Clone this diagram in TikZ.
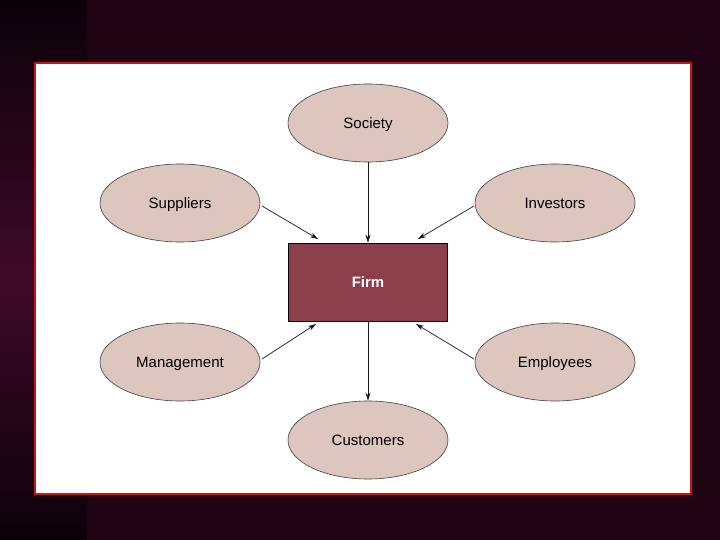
\documentclass[tikz,border=0pt]{standalone}
\usepackage{fontspec}
\setmainfont{Liberation Sans}
\usetikzlibrary{shapes.geometric,arrows.meta}
\definecolor{bgmain}{HTML}{1F0413}
\definecolor{bgdark}{HTML}{0B0208}
\definecolor{bgglow}{HTML}{3E0A28}
\definecolor{panelred}{HTML}{C8141E}
\definecolor{ellfill}{HTML}{DCC6BD}
\definecolor{firmfill}{HTML}{8B3F4B}
\tikzset{
  x=1pt, y=-1pt,
  party/.style={ellipse, draw=black!75, line width=0.6pt, fill=ellfill,
    minimum width=160pt, minimum height=78pt, inner sep=0pt, text depth=0pt,
    font=\fontsize{15}{17}\selectfont},
  firmbox/.style={rectangle, draw=black, line width=0.6pt, fill=firmfill,
    minimum width=159pt, minimum height=78pt, inner sep=0pt, text=white, text depth=0pt,
    font=\fontsize{15}{17}\selectfont\bfseries},
  link/.style={draw=black!90, line width=0.7pt, -{Stealth[length=8pt,width=5pt]}}
}
\begin{document}
\begin{tikzpicture}
\useasboundingbox (0,0) rectangle (720,540);
\fill[bgmain] (0,0) rectangle (720,540);
\shade[top color=bgdark, bottom color=bgglow] (0,0) rectangle (87,280);
\shade[top color=bgglow, bottom color=bgdark] (0,280) rectangle (87,540);
\fill[white, draw=panelred, line width=2pt] (35,63) rectangle (691,494);

\node[party] (soc) at (368,123) {Society};
\node[party] (sup) at (180,203) {Suppliers};
\node[party] (inv) at (555,203) {Investors};
\node[party] (man) at (180,362) {Management};
\node[party] (emp) at (555,362) {Employees};
\node[party] (cus) at (368,440) {Customers};
\node[firmbox] (firm) at (368,282) {Firm};

\coordinate (ftl) at (318,239);
\coordinate (ftr) at (418,239);
\coordinate (fbl) at (316,324);
\coordinate (fbr) at (416,324);

\draw[link] (soc.south) -- (firm.north);
\draw[link] (sup) ++(82,3) -- (ftl);
\draw[link] (inv) ++(-81,3) -- (ftr);
\draw[link] (man) ++(82,-3) -- (fbl);
\draw[link] (emp) ++(-81,-3) -- (fbr);
\draw[link] (firm.south) -- (cus.north);
\end{tikzpicture}
\end{document}
